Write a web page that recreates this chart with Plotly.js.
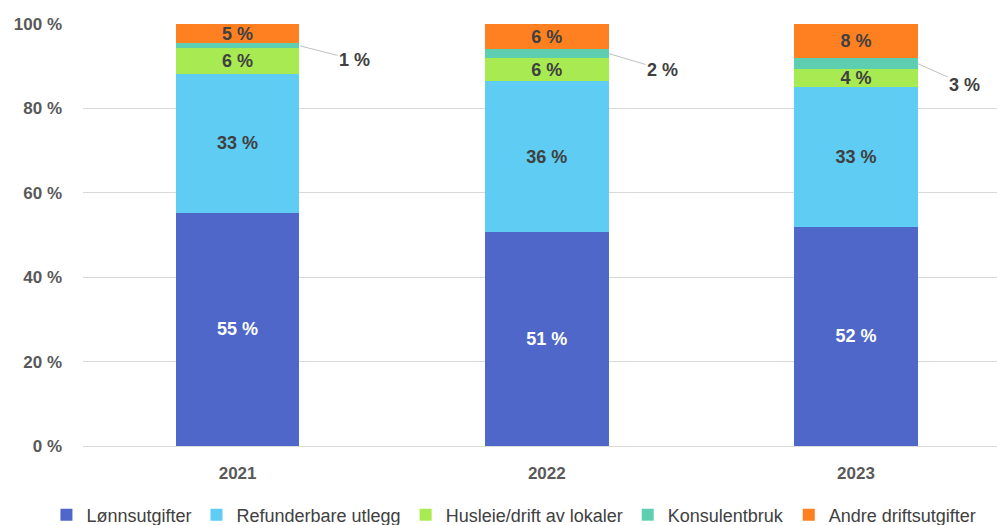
<!DOCTYPE html>
<html>
<head>
<meta charset="utf-8">
<script src="https://cdn.plot.ly/plotly-3.0.1.min.js"></script>
<style>html,body{margin:0;padding:0;background:#fff;}#chart{width:997px;height:525px;}</style>
</head>
<body>
<div id="chart"></div>
<script>
const years = ['2021', '2022', '2023'];
const seriesNames = ['Lønnsutgifter', 'Refunderbare utlegg', 'Husleie/drift av lokaler', 'Konsulentbruk', 'Andre driftsutgifter'];
const lonnsutgifter = [55.3, 50.8, 51.9];
const refunderbare = [32.9, 35.6, 33.2];
const husleie = [6.1, 5.6, 4.2];
const konsulentbruk = [1.1, 2.0, 2.6];
const andre = [4.6, 6.0, 8.1];
const colors = ['#4E67C8', '#5ECCF3', '#A7EA52', '#5DCEAF', '#FF8021'];
const labelColors = ['#FFFFFF', '#404040', '#404040', '#404040', '#404040'];
const allSeries = [lonnsutgifter, refunderbare, husleie, konsulentbruk, andre];
const FONT = 'Liberation Sans, Arial, sans-serif';

const traces = allSeries.map((vals, i) => ({
  type: 'bar',
  name: seriesNames[i],
  x: years,
  y: vals,
  width: 0.4,
  marker: {color: colors[i], line: {width: 0}},
  texttemplate: i === 3 ? '' : '%{y:.0f} %',
  textposition: i === 3 ? 'none' : 'inside',
  insidetextanchor: 'middle',
  constraintext: 'none',
  textfont: {family: FONT, size: 18, color: labelColors[i], weight: 'bold'},
  hoverinfo: 'skip'
}));

// outside labels for Konsulentbruk with leader lines
const offsets = [[55, 14], [54, 16], [47, 21]];
const annotations = years.map((yr, j) => {
  const base = lonnsutgifter[j] + refunderbare[j] + husleie[j];
  return {
    x: j + 0.2, y: base + konsulentbruk[j] / 2, xref: 'x', yref: 'y',
    text: Math.round(konsulentbruk[j]) + ' %',
    showarrow: true, arrowhead: 0, arrowwidth: 1, arrowcolor: '#BFBFBF',
    ax: offsets[j][0], ay: offsets[j][1], axref: 'pixel', ayref: 'pixel',
    standoff: 0, startstandoff: 0,
    font: {family: FONT, size: 18, color: '#404040', weight: 'bold'}
  };
});

const layout = {
  width: 997, height: 525,
  margin: {l: 83, r: 0, t: 24, b: 79, autoexpand: false},
  barmode: 'stack',
  showlegend: true,
  paper_bgcolor: '#FFFFFF', plot_bgcolor: '#FFFFFF',
  font: {family: FONT, color: '#595959'},
  uniformtext: {mode: 'show', minsize: 18},
  xaxis: {
    type: 'category', range: [-0.5, 2.456], automargin: false,
    showgrid: false, zeroline: false, showline: false,
    ticks: '', tickfont: {family: FONT, size: 17, color: '#595959', weight: 'bold'},
    ticklabelstandoff: 15
  },
  yaxis: {
    range: [0, 100], dtick: 20, ticksuffix: ' %', automargin: false,
    showgrid: true, gridcolor: '#D9D9D9', gridwidth: 1,
    zeroline: true, zerolinecolor: '#D9D9D9', zerolinewidth: 1,
    showline: false, ticks: '',
    tickfont: {family: FONT, size: 17, color: '#595959', weight: 'bold'},
    ticklabelstandoff: 20
  },
  legend: {
    orientation: 'h', x: -0.04, xref: 'paper', xanchor: 'left',
    y: -0.1635, yref: 'paper', yanchor: 'middle',
    font: {family: FONT, size: 18, color: '#404040'},
    itemwidth: 30, tracegroupgap: 0, traceorder: 'normal'
  },
  annotations: annotations
};

Plotly.newPlot('chart', traces, layout, {displayModeBar: false, staticPlot: true});
</script>
</body>
</html>
